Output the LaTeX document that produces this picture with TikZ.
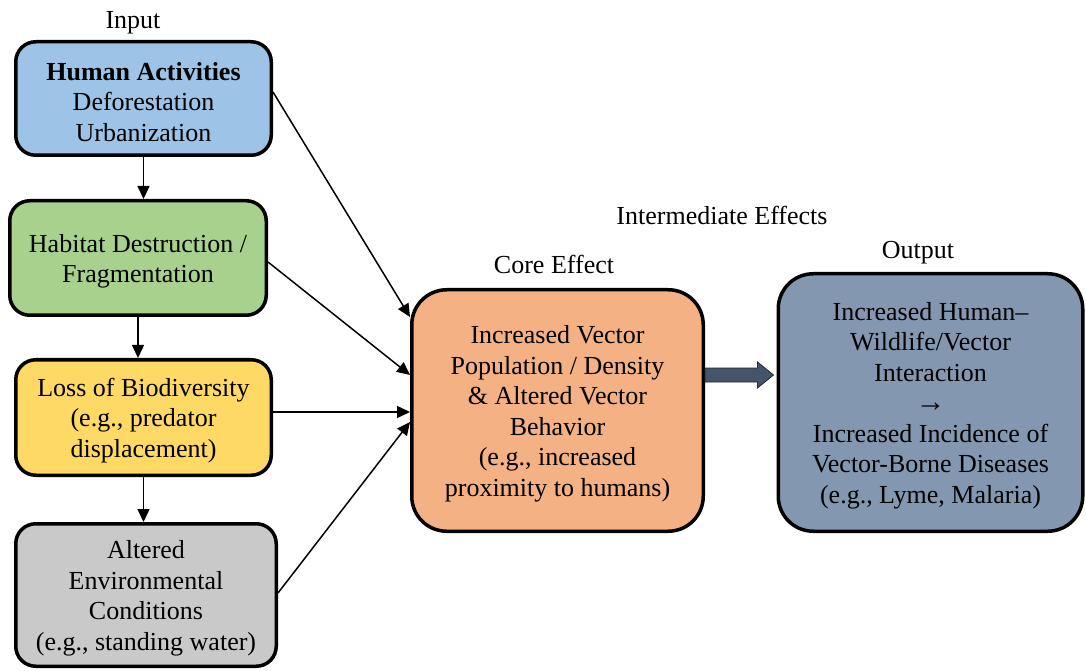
\documentclass[tikz,border=0pt]{standalone}
\usepackage{fontspec}
\setmainfont{Liberation Serif}
\usetikzlibrary{arrows.meta,calc}

\definecolor{actblue}{HTML}{9DC3E6}
\definecolor{habgreen}{HTML}{A9D18E}
\definecolor{bioyellow}{HTML}{FFD966}
\definecolor{envgray}{HTML}{C9C9C9}
\definecolor{coreorange}{HTML}{F4B183}
\definecolor{outslate}{HTML}{8497B0}
\definecolor{arrowdark}{HTML}{44546A}

% extra room above the first line, so that the text sits a little lower
\newcommand{\lowertext}{\rule{0pt}{24.5pt}}

\begin{document}
\begin{tikzpicture}[x=1pt, y=1pt,
    box/.style={draw, line width=3.5pt, rounded corners=20pt, align=center,
        inner sep=0pt, font=\fontsize{26}{30.5}\selectfont},
    bigbox/.style={box, rounded corners=35pt},
    lbl/.style={font=\fontsize{26}{30.5}\selectfont},
    link/.style={-{Triangle[length=13pt,width=12pt]}, line width=1.5pt}]
    \useasboundingbox (0,0) rectangle (1086,670);

    % Input column
    \node[box, fill=actblue, minimum width=255.5pt, minimum height=113.5pt] (human) at (143.5,571.5)
        {\lowertext\textbf{Human Activities}\\Deforestation\\Urbanization};
    \node[box, fill=habgreen, minimum width=256.5pt, minimum height=114.5pt] (habitat) at (138,412)
        {\lowertext Habitat Destruction /\\Fragmentation};
    \node[box, fill=bioyellow, minimum width=255.5pt, minimum height=115.5pt] (biodiv) at (143.5,252.5)
        {\lowertext Loss of Biodiversity\\(e.g., predator\\displacement)};
    \node[box, fill=envgray, minimum width=260.5pt, minimum height=142.5pt] (environ) at (146,75)
        {\lowertext Altered\\Environmental\\Conditions\\(e.g., standing water)};

    % Core effect and output
    \node[bigbox, fill=coreorange, minimum width=291.5pt, minimum height=241.5pt] (core) at (557.5,259.5)
        {\lowertext Increased Vector\\Population / Density\\\& Altered Vector\\Behavior\\(e.g., increased\\proximity to humans)};
    \node[bigbox, fill=outslate, minimum width=304.5pt, minimum height=257.5pt] (output) at (930.5,267.5)
        {\lowertext Increased Human–\\Wildlife/Vector\\Interaction\\{\fontsize{30}{30.5}\selectfont →}\\Increased Incidence of\\Vector-Borne Diseases\\(e.g., Lyme, Malaria)};

    % Labels
    \node[lbl] (inlbl) at (133,647) {Input};
    \node[lbl] (midlbl) at (722,455) {Intermediate Effects};
    \node[lbl] (corelbl) at (554,406) {Core Effect};
    \node[lbl] (outlbl) at (918,417) {Output};

    % Connections
    \draw[link] (human.south) -- (human.south |- habitat.north);
    \draw[link] (habitat.south) -- (habitat.south |- biodiv.north);
    \draw[link] (biodiv.south) -- (biodiv.south |- environ.north);
    \draw[link] ([yshift=6.5pt]human.east) -- ([yshift=93.5pt]core.west);
    \draw[link] ([yshift=-4pt]habitat.east) -- ([yshift=35.5pt]core.west);
    \draw[link] ([yshift=5.5pt]biodiv.east) -- ([yshift=5.5pt]biodiv.east -| core.west);
    \draw[link] ([yshift=2pt]environ.east) -- ([yshift=-11.5pt]core.west);

    % Block arrow to output
    \coordinate (bs) at ([yshift=35.5pt]core.east);
    \coordinate (be) at ($(bs -| output.west)+(-3,0)$);
    \draw[fill=arrowdark, draw=black!85, line width=0.8pt]
        ($(bs)+(0,7)$) -- ($(be)+(-16,7)$) -- ($(be)+(-16,13)$) -- (be)
        -- ($(be)+(-16,-13)$) -- ($(be)+(-16,-7)$) -- ($(bs)+(0,-7)$) -- cycle;
\end{tikzpicture}
\end{document}
